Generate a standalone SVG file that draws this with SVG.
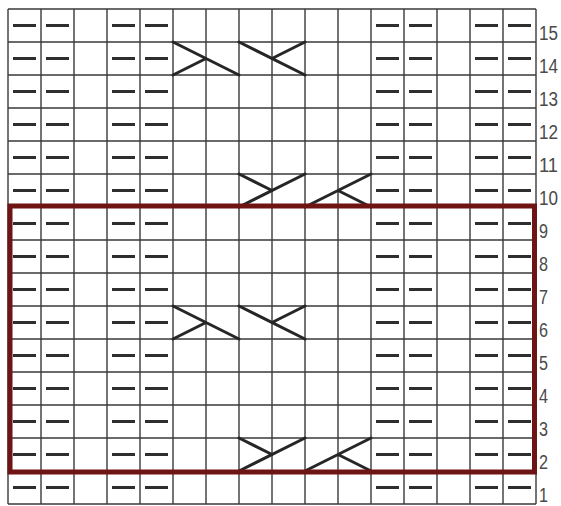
<svg xmlns="http://www.w3.org/2000/svg" xmlns:xlink="http://www.w3.org/1999/xlink" width="561" height="506" viewBox="0 0 561 506">
<style>
.grid{stroke:#3a3a3a;stroke-width:1.4;fill:none}
.dash{stroke:#2e2e2e;stroke-width:3;stroke-linecap:butt}
.cable{stroke:#262626;stroke-width:3;fill:none;stroke-linecap:round}
.lbl{font-family:"Liberation Sans",Arial,sans-serif;font-size:20px;fill:#4a4a4a}
.frame{fill:none;stroke:#6e1414;stroke-width:5}
</style>
<defs>
<g id="dashrow">
<line class="dash" x1="13" y1="0" x2="36" y2="0"/>
<line class="dash" x1="46" y1="0" x2="69" y2="0"/>
<line class="dash" x1="112" y1="0" x2="135" y2="0"/>
<line class="dash" x1="145" y1="0" x2="168" y2="0"/>
<line class="dash" x1="376" y1="0" x2="399" y2="0"/>
<line class="dash" x1="409" y1="0" x2="432" y2="0"/>
<line class="dash" x1="475" y1="0" x2="498" y2="0"/>
<line class="dash" x1="508" y1="0" x2="531" y2="0"/>
</g>
</defs>
<rect width="561" height="506" fill="#ffffff"/>
<g id="grid">
<path class="grid" d="M8 9V504M41 9V504M74 9V504M107 9V504M140 9V504M173 9V504M206 9V504M239 9V504M272 9V504M305 9V504M338 9V504M371 9V504M404 9V504M437 9V504M470 9V504M503 9V504M536 9V504"/>
<path class="grid" d="M8 9H536M8 42H536M8 75H536M8 108H536M8 141H536M8 174H536M8 207H536M8 240H536M8 273H536M8 306H536M8 339H536M8 372H536M8 405H536M8 438H536M8 471H536M8 504H536"/>
</g>
<g id="purl-stitches">
<use xlink:href="#dashrow" y="25.5"/>
<use xlink:href="#dashrow" y="58.5"/>
<use xlink:href="#dashrow" y="91.5"/>
<use xlink:href="#dashrow" y="124.5"/>
<use xlink:href="#dashrow" y="157.5"/>
<use xlink:href="#dashrow" y="190.5"/>
<use xlink:href="#dashrow" y="223.5"/>
<use xlink:href="#dashrow" y="256.5"/>
<use xlink:href="#dashrow" y="289.5"/>
<use xlink:href="#dashrow" y="322.5"/>
<use xlink:href="#dashrow" y="355.5"/>
<use xlink:href="#dashrow" y="388.5"/>
<use xlink:href="#dashrow" y="421.5"/>
<use xlink:href="#dashrow" y="454.5"/>
<use xlink:href="#dashrow" y="487.5"/>
</g>
<g id="cables">
<g id="cable-row14">
<path class="cable" d="M173 42L239 75M173 75L206 58.5"/>
<path class="cable" d="M239 42L305 75M305 42L272 58.5"/>
</g>
<g id="cable-row10">
<path class="cable" d="M239 207L305 174M239 174L272 190.5"/>
<path class="cable" d="M305 207L371 174M338 190.5L371 207"/>
</g>
<g id="cable-row6">
<path class="cable" d="M173 306L239 339M173 339L206 322.5"/>
<path class="cable" d="M239 306L305 339M305 306L272 322.5"/>
</g>
<g id="cable-row2">
<path class="cable" d="M239 471L305 438M239 438L272 454.5"/>
<path class="cable" d="M305 471L371 438M338 454.5L371 471"/>
</g>
</g>
<rect id="repeat-frame" class="frame" x="10" y="206" width="524.5" height="266"/>
<g id="row-labels">
<text class="lbl" x="539" y="39.5" textLength="19" lengthAdjust="spacingAndGlyphs">15</text>
<text class="lbl" x="539" y="72.5" textLength="19" lengthAdjust="spacingAndGlyphs">14</text>
<text class="lbl" x="539" y="105.5" textLength="19" lengthAdjust="spacingAndGlyphs">13</text>
<text class="lbl" x="539" y="138.5" textLength="19" lengthAdjust="spacingAndGlyphs">12</text>
<text class="lbl" x="539" y="171.5" textLength="19" lengthAdjust="spacingAndGlyphs">11</text>
<text class="lbl" x="539" y="204.5" textLength="19" lengthAdjust="spacingAndGlyphs">10</text>
<text class="lbl" x="539" y="237.5" textLength="9" lengthAdjust="spacingAndGlyphs">9</text>
<text class="lbl" x="539" y="270.5" textLength="9" lengthAdjust="spacingAndGlyphs">8</text>
<text class="lbl" x="539" y="303.5" textLength="9" lengthAdjust="spacingAndGlyphs">7</text>
<text class="lbl" x="539" y="336.5" textLength="9" lengthAdjust="spacingAndGlyphs">6</text>
<text class="lbl" x="539" y="369.5" textLength="9" lengthAdjust="spacingAndGlyphs">5</text>
<text class="lbl" x="539" y="402.5" textLength="9" lengthAdjust="spacingAndGlyphs">4</text>
<text class="lbl" x="539" y="435.5" textLength="9" lengthAdjust="spacingAndGlyphs">3</text>
<text class="lbl" x="539" y="468.5" textLength="9" lengthAdjust="spacingAndGlyphs">2</text>
<text class="lbl" x="539" y="501.5" textLength="9" lengthAdjust="spacingAndGlyphs">1</text>
</g>
</svg>
